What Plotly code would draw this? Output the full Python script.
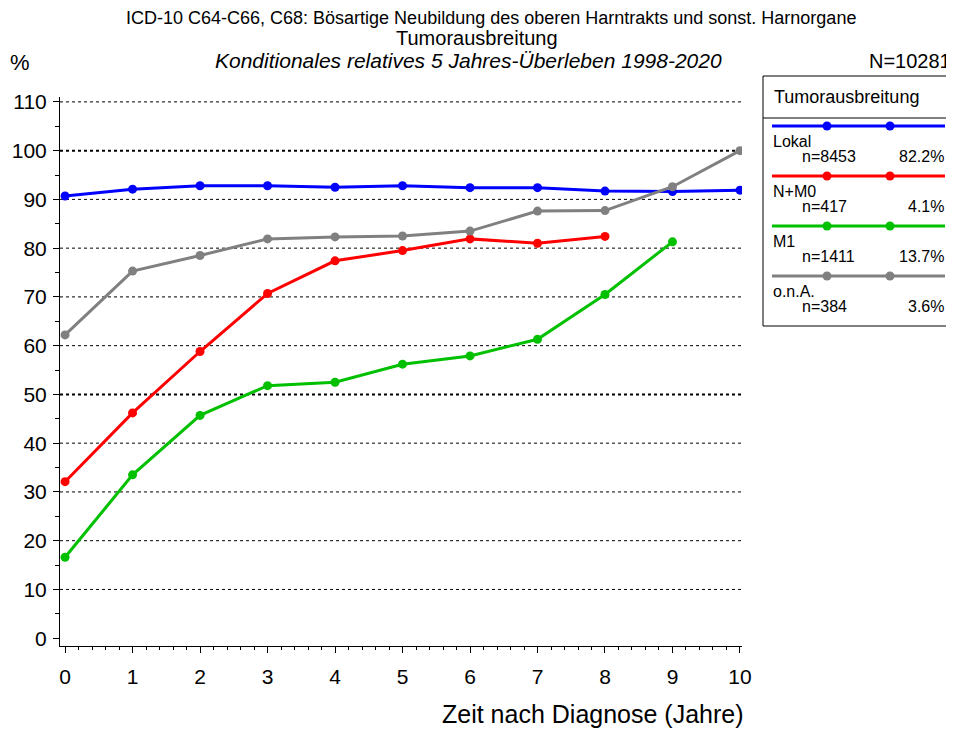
import plotly.graph_objects as go

# Daten
jahre = [0, 1, 2, 3, 4, 5, 6, 7, 8, 9, 10]
lokal = [90.7, 92.1, 92.8, 92.8, 92.5, 92.8, 92.4, 92.4, 91.7, 91.6, 91.9]
n_m0 = [32.1, 46.2, 58.8, 70.7, 77.4, 79.5, 81.9, 81.0, 82.4]
m1 = [16.6, 33.5, 45.7, 51.8, 52.5, 56.2, 57.9, 61.3, 70.5, 81.3]
ona = [62.2, 75.3, 78.5, 81.9, 82.3, 82.5, 83.5, 87.6, 87.7, 92.6, 100.0]

gruppen = ['Lokal', 'N+M0', 'M1', 'o.n.A.']
fallzahlen = ['n=8453', 'n=417', 'n=1411', 'n=384']
anteile = ['82.2%', '4.1%', '13.7%', '3.6%']
farben = ['#0000FF', '#FF0000', '#00C000', '#808080']
reihen = [lokal, n_m0, m1, ona]

y_gitter = [10, 20, 30, 40, 50, 60, 70, 80, 90, 100, 110]
x_ticks = [0, 1, 2, 3, 4, 5, 6, 7, 8, 9, 10]

# Seite hat 8px Rand -> Figur etwas kleiner, Koordinaten verschoben
RAND = 8
W, H = 946, 721
FONT = 'Liberation Sans, Arial, sans-serif'


def px(x):
    return (x - RAND) / W


def py(y):
    return 1 - (y - RAND) / H


fig = go.Figure()

# Kurven
for name, werte, farbe in zip(gruppen, reihen, farben):
    fig.add_trace(go.Scatter(
        x=jahre[:len(werte)],
        y=werte,
        mode='lines+markers',
        name=name,
        line=dict(color=farbe, width=3),
        marker=dict(size=9, color=farbe),
        showlegend=False,
        hovertemplate=name + ': %{y:.1f}%<extra></extra>'
    ))

# Gitterlinien (50 und 100 fetter)
for g in y_gitter:
    fig.add_shape(
        type='line', xref='paper', yref='y',
        x0=px(60), x1=px(742), y0=g, y1=g,
        line=dict(color='black', width=2 if g in (50, 100) else 1, dash='dot'),
        layer='below'
    )

# Legende als eigene Box
leg_x0, leg_x1, leg_y0, leg_y1 = 763, 952, 76, 326
fig.add_shape(type='rect', xref='paper', yref='paper',
              x0=px(leg_x0), x1=px(leg_x1), y0=py(leg_y1), y1=py(leg_y0),
              line=dict(color='black', width=1), fillcolor='white')
fig.add_shape(type='line', xref='paper', yref='paper',
              x0=px(leg_x0), x1=px(leg_x1), y0=py(118), y1=py(118),
              line=dict(color='black', width=1))
fig.add_annotation(text='Tumorausbreitung', xref='paper', yref='paper',
                   x=px(772), y=py(97), xanchor='left', yanchor='middle',
                   showarrow=False, font=dict(family=FONT, size=18, color='black'))

for i, (name, n, anteil, farbe) in enumerate(zip(gruppen, fallzahlen, anteile, farben)):
    ly = 126 + i * 50
    fig.add_shape(type='line', xref='paper', yref='paper',
                  x0=px(772), x1=px(945), y0=py(ly), y1=py(ly),
                  line=dict(color=farbe, width=3))
    for mx in (827, 890):
        fig.add_shape(type='circle', xref='paper', yref='paper',
                      x0=px(mx - 4.5), x1=px(mx + 4.5), y0=py(ly + 4.5), y1=py(ly - 4.5),
                      line=dict(color=farbe, width=0), fillcolor=farbe)
    fig.add_annotation(text=name, xref='paper', yref='paper',
                       x=px(771), y=py(ly + 15), xanchor='left', yanchor='middle',
                       showarrow=False, font=dict(family=FONT, size=16, color='black'))
    fig.add_annotation(text=n, xref='paper', yref='paper',
                       x=px(800), y=py(ly + 30), xanchor='left', yanchor='middle',
                       showarrow=False, font=dict(family=FONT, size=16, color='black'))
    fig.add_annotation(text=anteil, xref='paper', yref='paper',
                       x=px(946), y=py(ly + 30), xanchor='right', yanchor='middle',
                       showarrow=False, font=dict(family=FONT, size=16, color='black'))

# Titelzeilen
titel = [
    ('ICD-10 C64-C66, C68: Bösartige Neubildung des oberen Harntrakts und sonst. Harnorgane', 491, 18, 18),
    ('Tumorausbreitung', 477, 38, 20),
    ('<i>Konditionales relatives 5 Jahres-Überleben 1998-2020</i>', 468, 61, 21),
]
for txt, x, y, s in titel:
    fig.add_annotation(text=txt, xref='paper', yref='paper', x=px(x), y=py(y),
                       xanchor='center', yanchor='middle', showarrow=False,
                       font=dict(family=FONT, size=s, color='black'))

fig.add_annotation(text='%', xref='paper', yref='paper', x=px(8), y=py(63),
                   xanchor='left', yanchor='middle', showarrow=False,
                   font=dict(family=FONT, size=22, color='black'))
fig.add_annotation(text='N=10281', xref='paper', yref='paper', x=px(953), y=py(61),
                   xanchor='right', yanchor='middle', showarrow=False,
                   font=dict(family=FONT, size=20, color='black'))
fig.add_annotation(text='Zeit nach Diagnose (Jahre)', xref='paper', yref='paper',
                   x=px(746), y=py(714), xanchor='right', yanchor='middle',
                   showarrow=False, font=dict(family=FONT, size=25, color='black'))

fig.update_layout(
    width=W, height=H,
    margin=dict(l=0, r=0, t=0, b=0),
    paper_bgcolor='white',
    plot_bgcolor='white',
    showlegend=False,
    font=dict(family=FONT, color='black'),
    xaxis=dict(
        domain=[px(60), px(742)],
        range=[-0.075, 10.03],
        tickvals=x_ticks,
        ticks='outside', ticklen=6, tickwidth=1, tickcolor='black',
        minor=dict(dtick=0.2, tick0=0, ticks='outside', ticklen=3, tickcolor='black', showgrid=False),
        showgrid=False, zeroline=False,
        showline=True, linecolor='black', linewidth=1,
        tickfont=dict(family=FONT, size=21, color='black'),
        ticklabelstandoff=6,
        automargin=False, fixedrange=True
    ),
    yaxis=dict(
        domain=[py(646), py(97)],
        range=[-1.6, 111],
        tickvals=[0] + y_gitter,
        ticks='outside', ticklen=6, tickwidth=1, tickcolor='black',
        minor=dict(dtick=5, tick0=0, ticks='outside', ticklen=4, tickcolor='black', showgrid=False),
        showgrid=False, zeroline=False,
        showline=True, linecolor='black', linewidth=1,
        tickfont=dict(family=FONT, size=21, color='black'),
        ticklabelstandoff=2,
        automargin=False, fixedrange=True
    )
)

fig.write_html('out.html')
